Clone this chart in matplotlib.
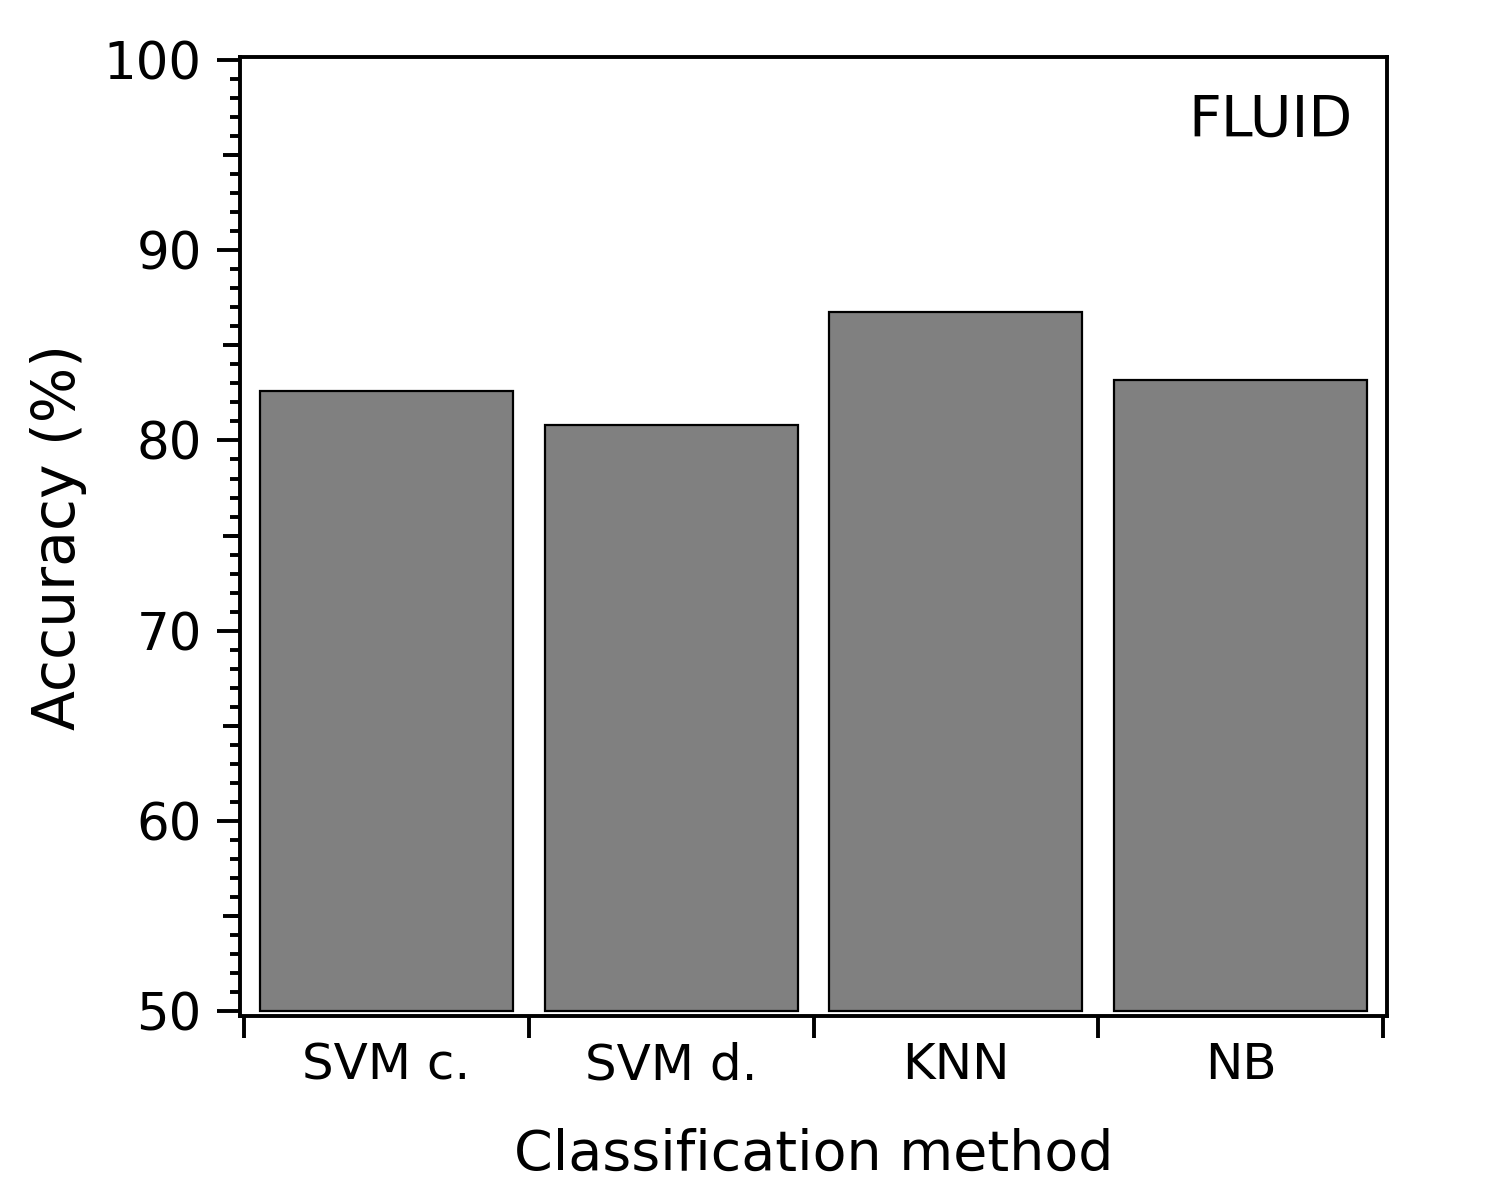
import matplotlib
matplotlib.use('Agg')
import matplotlib.pyplot as plt
from matplotlib.ticker import MultipleLocator, NullFormatter

methods = ['SVM c.', 'SVM d.', 'KNN', 'NB']
accuracy = [82.6, 80.8, 86.75, 83.2]
y_base = 50

plt.rcParams['font.family'] = 'DejaVu Sans'

fig = plt.figure(figsize=(7.5, 6), dpi=200)
ax = fig.add_axes([0.16, 0.1533, 0.7647, 0.7992])

pos = list(range(len(methods)))
heights = [a - y_base for a in accuracy]
ax.bar(pos, heights, bottom=y_base, width=0.89, color='#808080', edgecolor='black', linewidth=0.8)

ax.set_xlim(-0.515, len(methods) - 0.485)
ax.set_ylim(49.74, 100.16)

# x: ticks on the category boundaries, labels in the middle
ax.set_xticks([p - 0.5 for p in pos] + [len(methods) - 0.5])
ax.xaxis.set_major_formatter(NullFormatter())
ax.set_xticks(pos, minor=True)
ax.set_xticklabels(methods, minor=True, fontsize=18)
ax.tick_params(axis='x', which='major', direction='out', length=8, width=1.4)
ax.tick_params(axis='x', which='minor', length=0, pad=9)

# y: major 10, minor 1, medium 5
ax.set_yticks(range(50, 101, 10))
ax.yaxis.set_minor_locator(MultipleLocator(1))
ax.tick_params(axis='y', which='major', direction='out', length=8.3, width=1.4, labelsize=18.5, pad=5.5)
ax.tick_params(axis='y', which='minor', direction='out', length=3.6, width=1.4)
sec = ax.secondary_yaxis('left')
sec.set_yticks(range(55, 100, 10))
sec.yaxis.set_major_formatter(NullFormatter())
sec.tick_params(axis='y', direction='out', length=6.1, width=1.4)
sec.spines['left'].set_visible(False)

for s in ax.spines.values():
    s.set_linewidth(1.4)

ax.set_ylabel('Accuracy (%)', fontsize=21, labelpad=6)
ax.set_xlabel('Classification method', fontsize=20, labelpad=14)
ax.text(0.97, 0.962, 'FLUID', transform=ax.transAxes, ha='right', va='top', fontsize=20.5)

fig.savefig('out.png')
